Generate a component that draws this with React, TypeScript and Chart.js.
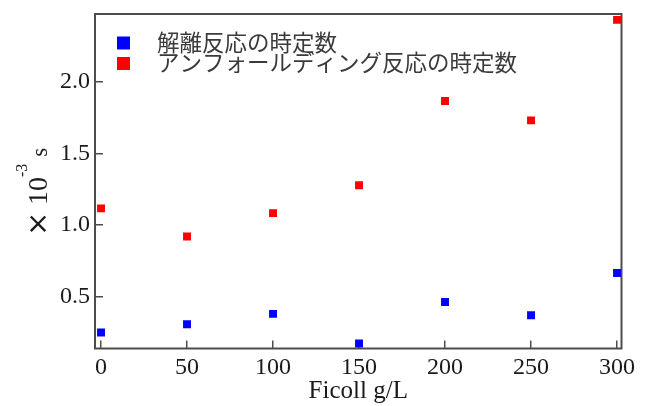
import React, { useEffect, useRef } from "react";
import { Chart, registerables } from "chart.js";

Chart.register(...registerables);

// ---- data ----
const ficoll = [0, 50, 100, 150, 200, 250, 300];
const dissociation = [0.25, 0.308, 0.38, 0.173, 0.463, 0.37, 0.666];
const unfolding = [1.117, 0.921, 1.084, 1.278, 1.867, 1.732, 2.434];
const seriesLabels = ["解離反応の時定数", "アンフォールディング反応の時定数"];
const seriesColors = ["#0000ff", "#ff0000"];
const xRange = [-3.5, 302.6];
const yRange = [0.138, 2.475];
const xStep = 50;
const yStep = 0.5;
const xTitle = "Ficoll g/L";
const yTitleMain = "10";
const yTitleExp = "-3";
const yTitleUnit = "s";

const AXIS = "#4d4d4d";
const SERIF = "'Liberation Serif', 'Times New Roman', serif";
const CJK = "'Noto Sans CJK JP', 'Noto Sans', sans-serif";

const framePlugin = {
  id: "frame",
  beforeDatasetsDraw(chart: any) {
    const { ctx, chartArea: a } = chart;
    ctx.save();
    ctx.strokeStyle = AXIS;
    ctx.lineWidth = 2;
    ctx.strokeRect(a.left, a.top, a.right - a.left, a.bottom - a.top);
    ctx.restore();
  },
};

const legendPlugin = {
  id: "insideLegend",
  afterDraw(chart: any) {
    const { ctx, chartArea: a } = chart;
    ctx.save();
    chart.data.datasets.forEach((ds: any, i: number) => {
      const cy = a.top + 29 + i * 20.5;
      ctx.fillStyle = ds.backgroundColor;
      ctx.fillRect(a.left + 22, cy - 6.5, 13, 13);
      ctx.fillStyle = "#3a3a3a";
      ctx.font = `22.5px ${CJK}`;
      ctx.textBaseline = "middle";
      ctx.textAlign = "left";
      ctx.fillText(ds.label, a.left + 62, cy - 1);
    });
    ctx.restore();
  },
};

const yTitlePlugin = {
  id: "yTitle",
  afterDraw(chart: any) {
    const { ctx } = chart;
    ctx.save();
    ctx.translate(47, 233);
    ctx.rotate(-Math.PI / 2);
    ctx.fillStyle = "#1a1a1a";
    ctx.textBaseline = "alphabetic";
    ctx.textAlign = "left";
    let x = 0;
    ctx.font = "29px 'DejaVu Sans', sans-serif";
    ctx.fillText("×", x - 3, 0);
    x += 28;
    ctx.font = `28px ${SERIF}`;
    ctx.fillText(yTitleMain, x, 0);
    x += ctx.measureText(yTitleMain).width;
    ctx.font = `16px ${SERIF}`;
    ctx.fillText(yTitleExp, x, -20);
    x += ctx.measureText(yTitleExp).width + 7;
    ctx.font = `23px ${SERIF}`;
    ctx.fillText(yTitleUnit, x, 0);
    ctx.restore();
  },
};

export default function App() {
  const ref = useRef<HTMLCanvasElement>(null);
  useEffect(() => {
    if (!ref.current) return;
    const chart = new Chart(ref.current, {
      type: "scatter",
      data: {
        datasets: [dissociation, unfolding].map((vals, i) => ({
          label: seriesLabels[i],
          data: ficoll.map((x, j) => ({ x, y: vals[j] })),
          backgroundColor: seriesColors[i],
          borderColor: seriesColors[i],
          borderWidth: 0,
          pointStyle: "rect",
          pointRadius: 5.6,
          showLine: false,
        })),
      },
      options: {
        responsive: false,
        animation: false,
        layout: { padding: { top: 14, right: 23.5, left: 0, bottom: 0 } },
        plugins: {
          legend: { display: false },
          tooltip: { enabled: false },
        },
        scales: {
          x: {
            type: "linear",
            min: xRange[0],
            max: xRange[1],
            afterFit: (s: any) => {
              s.height = 57.5;
              s.paddingLeft = 0;
              s.paddingRight = 0;
            },
            border: { display: false },
            grid: {
              drawOnChartArea: false,
              drawTicks: true,
              tickLength: -8,
              color: AXIS,
              lineWidth: 1.5,
            },
            ticks: {
              stepSize: xStep,
              includeBounds: false,
              padding: 13,
              color: "#1a1a1a",
              font: { family: SERIF, size: 24 },
              maxRotation: 0,
            },
            title: {
              display: true,
              text: xTitle,
              color: "#1a1a1a",
              font: { family: SERIF, size: 25 },
              padding: 0,
            },
          },
          y: {
            type: "linear",
            min: yRange[0],
            max: yRange[1],
            afterFit: (s: any) => {
              s.width = 95;
              s.paddingTop = 0;
              s.paddingBottom = 0;
            },
            border: { display: false },
            grid: {
              drawOnChartArea: false,
              drawTicks: true,
              tickLength: -8,
              color: AXIS,
              lineWidth: 1.5,
            },
            ticks: {
              stepSize: yStep,
              includeBounds: false,
              padding: 13,
              color: "#1a1a1a",
              font: { family: SERIF, size: 24 },
              callback: (v: any) => Number(v).toFixed(1),
            },
          },
        },
      },
      plugins: [framePlugin, legendPlugin, yTitlePlugin],
    });
    return () => chart.destroy();
  }, []);
  return (
    <div style={{ position: "absolute", left: 0, top: 0, width: 645, height: 406, background: "#fff" }}>
      <canvas ref={ref} width={645} height={406} />
    </div>
  );
}
